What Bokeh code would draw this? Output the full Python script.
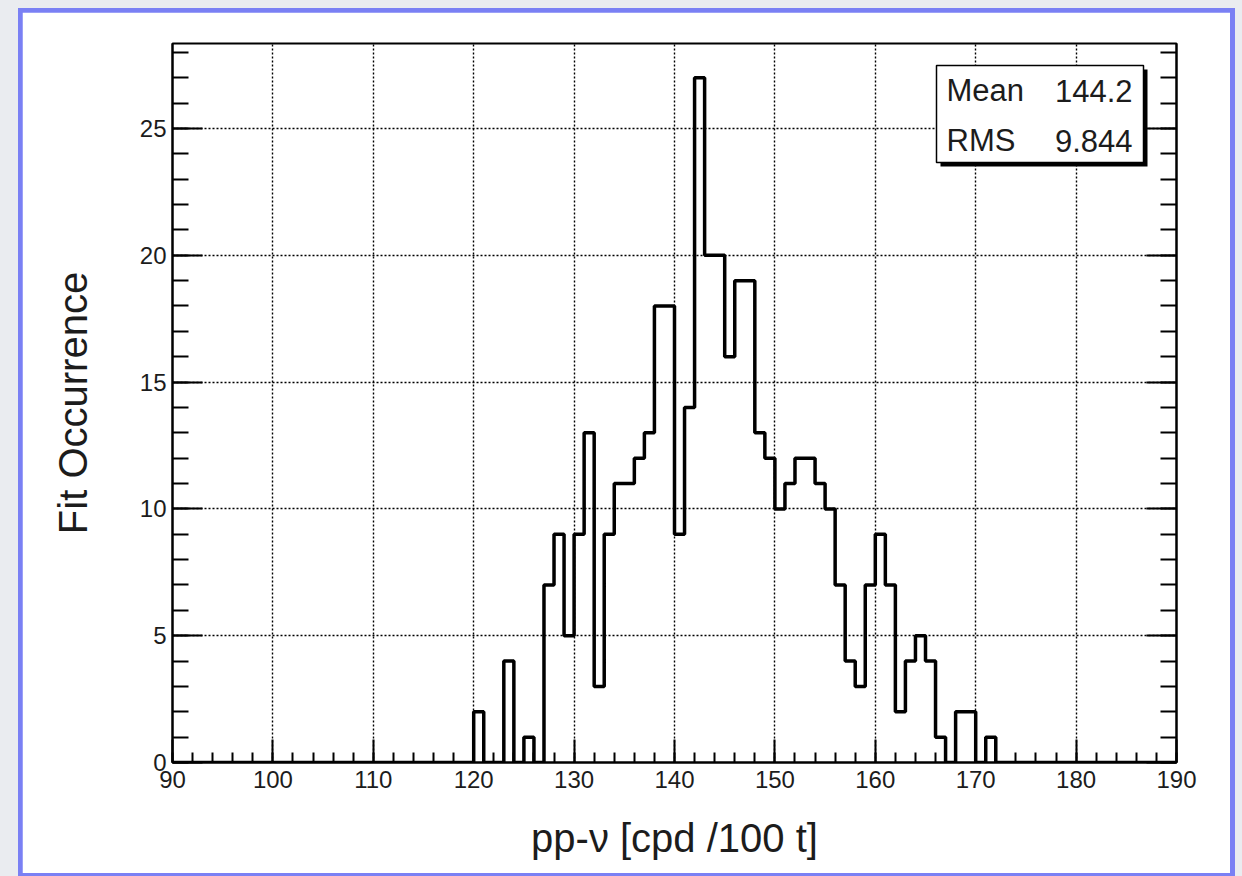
from bokeh.plotting import figure
from bokeh.layouts import column
from bokeh.models import (BoxAnnotation, Label, LinearAxis, Range1d,
                          SingleIntervalTicker, CustomJSTickFormatter)
from bokeh.embed import file_html
from bokeh.resources import INLINE

# Histogram of fitted pp-neutrino rates: 1-unit bins from 90 to 190
bin_lo = 90
bin_hi = 190
counts = [
    0, 0, 0, 0, 0, 0, 0, 0, 0, 0,        # 90-99
    0, 0, 0, 0, 0, 0, 0, 0, 0, 0,        # 100-109
    0, 0, 0, 0, 0, 0, 0, 0, 0, 0,        # 110-119
    2, 0, 0, 4, 0, 1, 0, 7, 9, 5,        # 120-129
    9, 13, 3, 9, 11, 11, 12, 13, 18, 18, # 130-139
    9, 14, 27, 20, 20, 16, 19, 19, 13, 12,  # 140-149
    10, 11, 12, 12, 11, 10, 7, 4, 3, 7,  # 150-159
    9, 7, 2, 4, 5, 4, 1, 0, 2, 2,        # 160-169
    0, 1, 0, 0, 0, 0, 0, 0, 0, 0,        # 170-179
    0, 0, 0, 0, 0, 0, 0, 0, 0, 0,        # 180-189
]
y_max = 28.35

stat_names = ["Mean", "RMS"]
stat_values = ["144.2", "9.844"]

x_title = "pp-\u03bd [cpd /100 t]"
y_title = "Fit Occurrence"

FONT = "Liberation Sans"
INK = "#1c1c1c"
PAGE = "#eaecf0"
EDGE = "#7a80f4"

edges = list(range(bin_lo, bin_hi + 1))
step_y = counts + [counts[-1]]

# white sheet holding the plot
p = figure(width=1208, height=861, output_backend="svg", toolbar_location=None,
           x_range=Range1d(bin_lo, bin_hi), y_range=Range1d(0, y_max),
           min_border_left=150, min_border_right=54,
           min_border_top=31, min_border_bottom=111,
           x_axis_label=x_title, y_axis_label=y_title)
p.border_fill_color = "white"
p.background_fill_color = "white"
p.outline_line_color = "black"
p.outline_line_width = 2

# axes
xa = p.xaxis[0]
xa.ticker = SingleIntervalTicker(interval=10, num_minor_ticks=5)
ya = p.yaxis[0]
ya.ticker = SingleIntervalTicker(interval=5, num_minor_ticks=5)
for ax in (xa, ya):
    ax.axis_line_width = 2
    ax.axis_line_color = "black"
    ax.major_tick_line_width = 2
    ax.minor_tick_line_width = 2
    ax.major_tick_out = 0
    ax.minor_tick_out = 0
    ax.major_label_text_font = FONT
    ax.major_label_text_font_size = "24px"
    ax.major_label_text_color = INK
    ax.axis_label_text_font = FONT
    ax.axis_label_text_font_style = "normal"
    ax.axis_label_text_font_size = "40px"
    ax.axis_label_text_color = INK
xa.major_tick_in = 23
xa.minor_tick_in = 10
xa.major_label_standoff = 8
xa.axis_label_standoff = 25
ya.major_tick_in = 30
ya.minor_tick_in = 16
ya.major_label_standoff = 6
ya.axis_label_standoff = 42

ra = LinearAxis(ticker=SingleIntervalTicker(interval=5, num_minor_ticks=5),
                formatter=CustomJSTickFormatter(code="return ''"),
                axis_line_width=2, major_tick_line_width=2, minor_tick_line_width=2,
                major_tick_in=30, major_tick_out=0, minor_tick_in=16, minor_tick_out=0,
                major_label_standoff=0)
p.add_layout(ra, "right")

# dotted grid
for g in (p.xgrid[0], p.ygrid[0]):
    g.grid_line_color = "black"
    g.grid_line_width = 1.4
    g.grid_line_dash = "2 2"
p.xgrid[0].ticker = xa.ticker
p.ygrid[0].ticker = ya.ticker

# histogram outline
p.step(edges, step_y, mode="after", line_color="black", line_width=3.5)


def canvas_box(l, r, t, b, color):
    return BoxAnnotation(left=l, right=r, top=t, bottom=b,
                         left_units="canvas", right_units="canvas",
                         top_units="canvas", bottom_units="canvas",
                         fill_color=color, fill_alpha=1.0, line_alpha=0.0)


# statistics box (canvas coordinates of this figure)
p.add_layout(canvas_box(918, 1125, 57, 154, "black"))
box = canvas_box(914, 1121, 53, 150, "white")
box.line_color = "black"
box.line_alpha = 1.0
box.line_width = 1.5
p.add_layout(box)

row_base = [78, 128]
for name, val, yb in zip(stat_names, stat_values, row_base):
    p.add_layout(Label(x=924, y=yb, x_units="canvas", y_units="canvas", text=name,
                       text_font=FONT, text_font_size="31px", text_color=INK,
                       text_align="left", text_baseline="alphabetic"))
    p.add_layout(Label(x=1110, y=yb, x_units="canvas", y_units="canvas", text=val,
                       text_font=FONT, text_font_size="31px", text_color=INK,
                       text_align="right", text_baseline="alphabetic"))

# blue edge around the sheet, then the grey page
edge = column(p, width=1217, height=868,
              styles={"background-color": EDGE, "padding": "4px 5px 3px 4px",
                      "box-sizing": "border-box"})
page = column(edge, width=1242, height=876,
              styles={"background-color": PAGE, "padding-left": "18px",
                      "padding-top": "8px", "box-sizing": "border-box"})

open("out.html", "w").write(file_html(page, INLINE))
